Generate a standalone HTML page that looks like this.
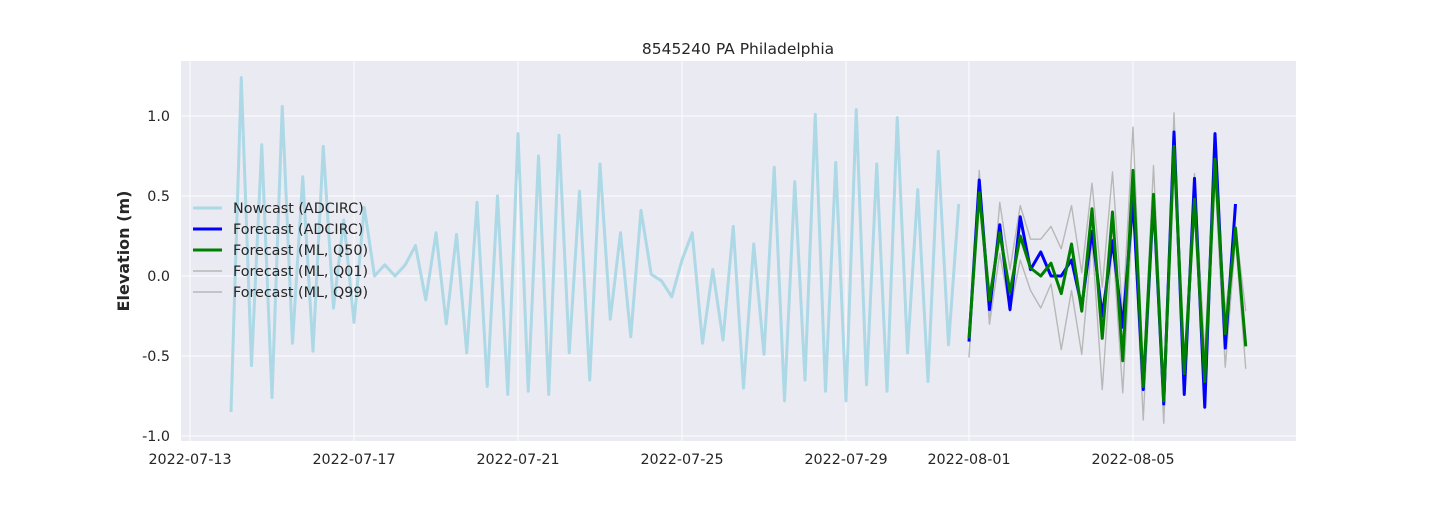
<!DOCTYPE html>
<html><head><meta charset="utf-8"><style>
body{margin:0;background:#fff;width:1440px;height:504px;overflow:hidden;font-family:"Liberation Sans","DejaVu Sans",sans-serif}
text{font-family:"DejaVu Sans","Liberation Sans",sans-serif;fill:#262626}
</style></head><body>
<svg id="chart" width="1440" height="504" xmlns="http://www.w3.org/2000/svg"></svg>
<script>
const xTickLabels=["2022-07-13","2022-07-17","2022-07-21","2022-07-25","2022-07-29","2022-08-01","2022-08-05"];
const xTickDays=[0,4,8,12,16,19,23];
const yTicks=[-1.0,-0.5,0.0,0.5,1.0];
const nowcastStart=1; // days after 2022-07-13
const nowcast=[-0.85,1.24,-0.56,0.82,-0.76,1.06,-0.42,0.62,-0.47,0.81,-0.2,0.35,-0.29,0.43,0,0.07,0,0.07,0.19,-0.15,0.27,-0.3,0.26,-0.48,0.46,-0.69,0.5,-0.74,0.89,-0.72,0.75,-0.74,0.88,-0.48,0.53,-0.65,0.70,-0.27,0.27,-0.38,0.41,0.01,-0.03,-0.13,0.10,0.27,-0.42,0.04,-0.40,0.31,-0.70,0.20,-0.49,0.68,-0.78,0.59,-0.65,1.01,-0.72,0.71,-0.78,1.04,-0.68,0.70,-0.72,0.99,-0.48,0.54,-0.66,0.78,-0.43,0.45];
const forecastStart=19;
const fcAdcirc=[-0.41,0.60,-0.21,0.32,-0.21,0.37,0.04,0.15,0.00,0.00,0.10,-0.19,0.28,-0.25,0.22,-0.32,0.48,-0.71,0.48,-0.80,0.90,-0.74,0.61,-0.82,0.89,-0.45,0.45];
const fcQ50=[-0.39,0.52,-0.15,0.27,-0.10,0.25,0.05,0.00,0.08,-0.11,0.20,-0.22,0.42,-0.39,0.40,-0.53,0.66,-0.69,0.51,-0.78,0.81,-0.61,0.48,-0.66,0.73,-0.36,0.30,-0.44];
const fcQ01=[-0.51,0.52,-0.30,0.14,-0.22,0.10,-0.09,-0.20,-0.05,-0.46,-0.09,-0.49,0.23,-0.71,0.23,-0.73,0.43,-0.90,0.41,-0.92,0.77,-0.73,0.41,-0.82,0.62,-0.57,0.23,-0.58];
const fcQ99=[-0.36,0.66,-0.30,0.46,0.04,0.44,0.23,0.23,0.31,0.17,0.44,0.02,0.58,-0.07,0.65,-0.25,0.93,-0.63,0.69,-0.69,1.02,-0.57,0.64,-0.48,0.79,-0.23,0.31,-0.22];
const legendLabels=["Nowcast (ADCIRC)","Forecast (ADCIRC)","Forecast (ML, Q50)","Forecast (ML, Q01)","Forecast (ML, Q99)"];

const NS="http://www.w3.org/2000/svg";
const svg=document.getElementById('chart');
const L=181,R=1296,T=61,B=441;
const X=d=>190+41*d;
const Y=v=>276-160*v;
function el(tag,attrs,parent){const e=document.createElementNS(NS,tag);for(const k in attrs)e.setAttribute(k,attrs[k]);(parent||svg).appendChild(e);return e;}

const bg=el('rect',{x:L,y:T,width:R-L,height:B-T,fill:'#eaeaf2'});


xTickDays.forEach((d,i)=>{
  const g=el('line',{x1:X(d),x2:X(d),y1:T,y2:B,stroke:'#fff','stroke-width':1});
  
  
  const t=el('text',{x:X(d),y:464,'text-anchor':'middle','font-size':14.3});
  t.textContent=xTickLabels[i];
  
  
});
yTicks.forEach(v=>{
  const g=el('line',{x1:L,x2:R,y1:Y(v),y2:Y(v),stroke:'#fff','stroke-width':1});
  
  
  const t=el('text',{x:170,y:Y(v)+5,'text-anchor':'end','font-size':14.3});
  t.textContent=v.toFixed(1);
  
  
});
function series(arr,start,color,w,name){
  const pts=arr.map((v,i)=>X(start+i*0.25).toFixed(2)+','+Y(v).toFixed(2)).join(' ');
  const p=el('polyline',{points:pts,fill:'none',stroke:color,'stroke-width':w,'stroke-linejoin':'round'});
  
  
}
series(nowcast,nowcastStart,'#add8e6',3,'nowcast-line');
series(fcQ01,forecastStart,'#b8b8b8',1.4,'q01-line');
series(fcQ99,forecastStart,'#b8b8b8',1.4,'q99-line');
series(fcAdcirc,forecastStart,'#0000ff',3,'forecast-adcirc-line');
series(fcQ50,forecastStart,'#008000',3,'forecast-q50-line');

const colors=['#add8e6','#0000ff','#008000','#b8b8b8','#b8b8b8'];
const widths=[3,3,3,1.4,1.4];
legendLabels.forEach((lab,i)=>{
  const y=208+21*i;
  const l=el('line',{x1:193,x2:222,y1:y,y2:y,stroke:colors[i],'stroke-width':widths[i]});
  
  
  const t=el('text',{x:233,y:y+5,'font-size':14.3});
  t.textContent=lab;
  
  
});
const title=el('text',{x:738,y:54,'text-anchor':'middle','font-size':15.5});
title.textContent='8545240 PA Philadelphia';


const yl=el('text',{x:0,y:0,'text-anchor':'middle','font-size':16,'font-weight':'bold',transform:'translate(129,251) rotate(-90)'});
yl.textContent='Elevation (m)';


</script>
</body></html>
